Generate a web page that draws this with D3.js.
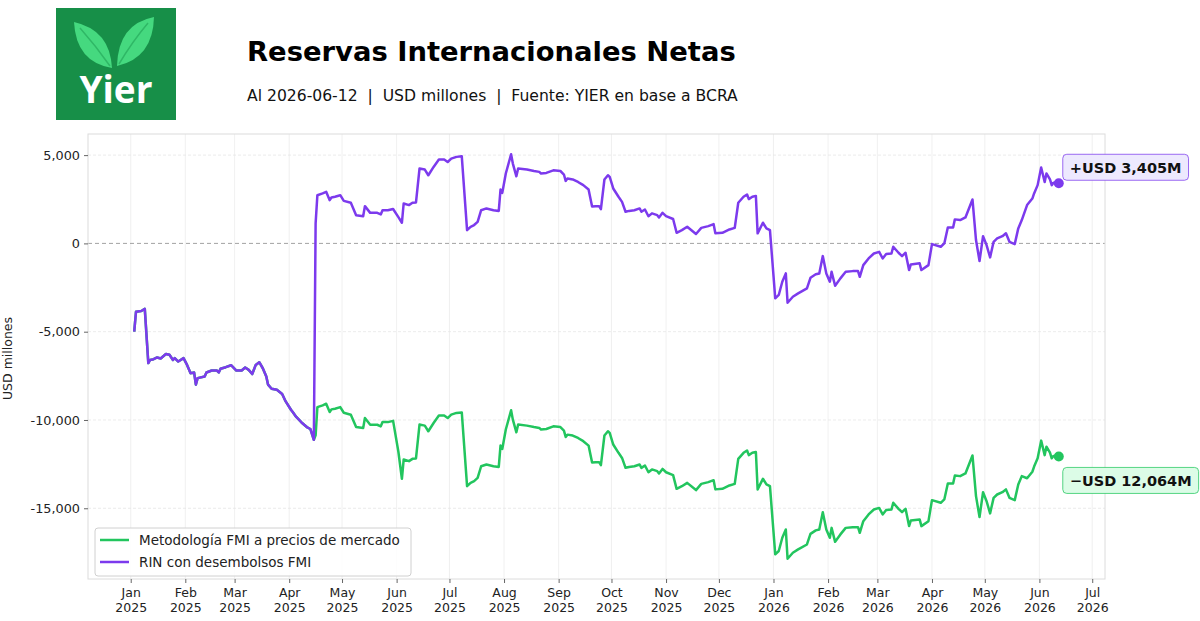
<!DOCTYPE html>
<html>
<head>
<meta charset="utf-8">
<script src="https://cdn.jsdelivr.net/npm/d3@7"></script>
<style>
  body { margin: 0; background: #fff; overflow: hidden; }
  svg { display: block; }
  text { font-family: "DejaVu Sans", sans-serif; }
</style>
</head>
<body>
<script>
const width = 1200,
  height = 621;

const margin = { top: 134, right: 95, bottom: 42, left: 88 };
const innerWidth = width - margin.left - margin.right;
const innerHeight = height - margin.top - margin.bottom;

// Data (USD millones)
const fechas = [
  "2025-01-03", "2025-01-04", "2025-01-07", "2025-01-09", "2025-01-11", "2025-01-12", "2025-01-14", "2025-01-16", "2025-01-18", "2025-01-21", "2025-01-23", "2025-01-25", "2025-01-26", "2025-01-28", "2025-01-31",
  "2025-02-02", "2025-02-04", "2025-02-06", "2025-02-07", "2025-02-08", "2025-02-12", "2025-02-13", "2025-02-16", "2025-02-19", "2025-02-20", "2025-02-21", "2025-02-24", "2025-02-27",
  "2025-03-02", "2025-03-05", "2025-03-07", "2025-03-09", "2025-03-11", "2025-03-13", "2025-03-15", "2025-03-17", "2025-03-19", "2025-03-20", "2025-03-22", "2025-03-25", "2025-03-28", "2025-03-30",
  "2025-04-02", "2025-04-03", "2025-04-05", "2025-04-08", "2025-04-11", "2025-04-13", "2025-04-15", "2025-04-16", "2025-04-17", "2025-04-20", "2025-04-22", "2025-04-24", "2025-04-25", "2025-04-27", "2025-04-30",
  "2025-05-02", "2025-05-06", "2025-05-09", "2025-05-13", "2025-05-14", "2025-05-17", "2025-05-21", "2025-05-23", "2025-05-24", "2025-05-27", "2025-05-30",
  "2025-06-02", "2025-06-04", "2025-06-05", "2025-06-08", "2025-06-10", "2025-06-12", "2025-06-14", "2025-06-17", "2025-06-19", "2025-06-22", "2025-06-25", "2025-06-28", "2025-06-30",
  "2025-07-02", "2025-07-05", "2025-07-08", "2025-07-11", "2025-07-13", "2025-07-15", "2025-07-17", "2025-07-19", "2025-07-22", "2025-07-26", "2025-07-29", "2025-07-30", "2025-07-31",
  "2025-08-02", "2025-08-05", "2025-08-06", "2025-08-08", "2025-08-09", "2025-08-14", "2025-08-18", "2025-08-21", "2025-08-22", "2025-08-25", "2025-08-29",
  "2025-09-02", "2025-09-04", "2025-09-05", "2025-09-06", "2025-09-09", "2025-09-12", "2025-09-15", "2025-09-18", "2025-09-20", "2025-09-22", "2025-09-24", "2025-09-25", "2025-09-27", "2025-09-29", "2025-09-30",
  "2025-10-02", "2025-10-05", "2025-10-07", "2025-10-09", "2025-10-11", "2025-10-14", "2025-10-17", "2025-10-18", "2025-10-20", "2025-10-22", "2025-10-24", "2025-10-27", "2025-10-28", "2025-10-30",
  "2025-11-01", "2025-11-05", "2025-11-07", "2025-11-10", "2025-11-13", "2025-11-18", "2025-11-21", "2025-11-25", "2025-11-28", "2025-11-29",
  "2025-12-03", "2025-12-07", "2025-12-10", "2025-12-12", "2025-12-15", "2025-12-17", "2025-12-18", "2025-12-20", "2025-12-22", "2025-12-23", "2025-12-26", "2025-12-28", "2025-12-30",
  "2026-01-02", "2026-01-04", "2026-01-06", "2026-01-08", "2026-01-09", "2026-01-12", "2026-01-15", "2026-01-20", "2026-01-22", "2026-01-25", "2026-01-27", "2026-01-29", "2026-01-31",
  "2026-02-02", "2026-02-03", "2026-02-05", "2026-02-08", "2026-02-11", "2026-02-15", "2026-02-18", "2026-02-19", "2026-02-21", "2026-02-24", "2026-02-27",
  "2026-03-02", "2026-03-04", "2026-03-06", "2026-03-09", "2026-03-10", "2026-03-13", "2026-03-15", "2026-03-17", "2026-03-19", "2026-03-20", "2026-03-25", "2026-03-26", "2026-03-30",
  "2026-04-01", "2026-04-06", "2026-04-08", "2026-04-10", "2026-04-13", "2026-04-14", "2026-04-17", "2026-04-20", "2026-04-24", "2026-04-26", "2026-04-28", "2026-04-30",
  "2026-05-02", "2026-05-04", "2026-05-06", "2026-05-08", "2026-05-11", "2026-05-13", "2026-05-15", "2026-05-18", "2026-05-20", "2026-05-22", "2026-05-25", "2026-05-28", "2026-05-29", "2026-05-31",
  "2026-06-02", "2026-06-04", "2026-06-05", "2026-06-07", "2026-06-08", "2026-06-09", "2026-06-12"
];

// RIN con desembolsos FMI
const rinDesembolsos = [
  -5000, -3870, -3830, -3710, -6780, -6600, -6560, -6460, -6520, -6260, -6310, -6600, -6500, -6690, -6500,
  -6880, -7350, -7310, -8000, -7630, -7540, -7310, -7200, -7200, -7310, -7100, -7010, -6900,
  -7200, -7200, -7030, -7160, -7400, -6880, -6730, -7070, -7540, -8000, -8230, -8290, -8530, -8950,
  -9420, -9550, -9830, -10140, -10400, -10510, -11120, 1130, 2730, 2830, 2920, 2450, 2600, 2640, 2730,
  2410, 2300, 1600, 1540, 2110, 1730, 1730, 1640, 1880, 1880, 1950,
  1490, 1170, 2260, 2170, 2300, 2320, 4240, 4180, 3860, 4330, 4750, 4750, 4610,
  4800, 4900, 4930, 750, 940, 1040, 1220, 1880, 1980, 1880, 1840, 3050, 2860,
  3960, 5050, 4520, 3800, 4240, 4180, 4100, 4050, 3960, 3990, 4140,
  4100, 3900, 3540, 3670, 3620, 3480, 3300, 3050, 2090, 2110, 2110, 1940, 3620, 3860, 3770,
  3110, 2640, 2350, 1790, 1840, 1880, 1980, 1790, 1920, 1540, 1700, 1600, 1470, 1730,
  1540, 1380, 600, 750, 940, 530, 880, 980, 1090, 570,
  600, 790, 880, 2300, 2640, 2770, 2510, 2640, 2690, 570, 1170, 850, 750,
  -3110, -2920, -2170, -1700, -3360, -3020, -2830, -2550, -1950, -1750, -1700, -720, -1700,
  -2170, -1610, -2400, -1980, -1610, -1570, -1570, -1890, -1230, -850, -570,
  -480, -850, -600, -570, -190, -530, -720, -530, -1510, -1190, -1130, -1510, -1230,
  -40, -190, 0, 900, 900, 1360, 1320, 1470, 2490, 190, -1000, 410,
  -100, -790, 90, 280, 410, 570, 90, -40, 850, 1320, 2170, 2540, 2830, 3300,
  4300, 3480, 3960, 3620, 3300, 3430, 3405
];

// Metodología FMI a precios de mercado
const metodologiaFmi = [
  -5000, -3870, -3830, -3710, -6780, -6600, -6560, -6460, -6520, -6260, -6310, -6600, -6500, -6690, -6500,
  -6880, -7350, -7310, -8000, -7630, -7540, -7310, -7200, -7200, -7310, -7100, -7010, -6900,
  -7200, -7200, -7030, -7160, -7400, -6880, -6730, -7070, -7540, -8000, -8230, -8290, -8530, -8950,
  -9420, -9550, -9830, -10140, -10400, -10510, -11120, -10870, -9270, -9170, -9080, -9550, -9400, -9360, -9270,
  -9590, -9700, -10400, -10460, -9890, -10270, -10270, -10360, -10120, -10120, -10050,
  -11800, -13330, -12240, -12330, -12200, -12180, -10260, -10320, -10640, -10170, -9750, -9750, -9890,
  -9700, -9600, -9570, -13750, -13560, -13460, -13280, -12620, -12520, -12620, -12660, -11450, -11640,
  -10540, -9450, -9980, -10700, -10260, -10320, -10400, -10450, -10540, -10510, -10360,
  -10400, -10600, -10960, -10830, -10880, -11020, -11200, -11450, -12410, -12390, -12390, -12560, -10880, -10640, -10730,
  -11390, -11860, -12150, -12710, -12660, -12620, -12520, -12710, -12580, -12960, -12800, -12900, -13030, -12770,
  -12960, -13120, -13900, -13750, -13560, -13970, -13620, -13520, -13410, -13930,
  -13900, -13710, -13620, -12200, -11860, -11730, -11990, -11860, -11810, -13930, -13330, -13650, -13750,
  -17610, -17420, -16670, -16200, -17860, -17520, -17330, -17050, -16450, -16250, -16200, -15220, -16200,
  -16670, -16110, -16900, -16480, -16110, -16070, -16070, -16390, -15730, -15350, -15070,
  -14980, -15350, -15100, -15070, -14690, -15030, -15220, -15030, -16010, -15690, -15630, -16010, -15730,
  -14540, -14690, -14500, -13600, -13600, -13140, -13180, -13030, -12010, -14310, -15500, -14090,
  -14600, -15290, -14410, -14220, -14090, -13930, -14410, -14540, -13650, -13180, -13300, -12930, -12640, -12170,
  -11170, -11990, -11510, -11850, -12170, -12040, -12064
];

const yTicks = [5000, 0, -5000, -10000, -15000];

const titulo = "Reservas Internacionales Netas";
const subtitulo = "Al 2026-06-12  |  USD millones  |  Fuente: YIER en base a BCRA";

const parseDate = d3.timeParse("%Y-%m-%d");
const fmtMonth = d3.timeFormat("%b");
const fmtYear = d3.timeFormat("%Y");
const numFormat = d3.formatLocale({
  decimal: ".",
  thousands: ",",
  grouping: [3],
  currency: ["$", ""],
  minus: "-"
}).format(",");

const series = [
  {
    name: "Metodología FMI a precios de mercado",
    color: "#22c55e",
    boxFill: "#dcfce7",
    values: metodologiaFmi
  },
  {
    name: "RIN con desembolsos FMI",
    color: "#7c3aed",
    boxFill: "#ede9fe",
    values: rinDesembolsos
  }
];

series.forEach(s => {
  s.data = fechas.map((f, i) => ({ date: parseDate(f), value: s.values[i] }));
});

// scales with matplotlib-like 5% margins
const dateExtent = d3.extent(fechas, parseDate);
const xPad = (dateExtent[1] - dateExtent[0]) * 0.05;
const xScale = d3
  .scaleTime()
  .domain([new Date(+dateExtent[0] - xPad), new Date(+dateExtent[1] + xPad)])
  .range([margin.left, margin.left + innerWidth]);

const allValues = rinDesembolsos.concat(metodologiaFmi);
const yMin = d3.min(allValues),
  yMax = d3.max(allValues);
const yPad = (yMax - yMin) * 0.05;
const yScale = d3
  .scaleLinear()
  .domain([yMin - yPad, yMax + yPad])
  .range([margin.top + innerHeight, margin.top]);

const svg = d3
  .select("body")
  .append("svg")
  .attr("width", width)
  .attr("height", height);

// logo
const logo = svg.append("g").attr("class", "logo");
logo
  .append("rect")
  .attr("x", 56)
  .attr("y", 8)
  .attr("width", 120)
  .attr("height", 112)
  .attr("fill", "#178f48");
logo
  .append("path")
  .attr("d", "M112,68 Q110,30 74,22 Q76,62 112,68 Z")
  .attr("fill", "#45d97f");
logo
  .append("path")
  .attr("d", "M117,66 Q118,24 154,17 Q153,58 117,66 Z")
  .attr("fill", "#45d97f");
logo
  .append("path")
  .attr("d", "M110,66 Q96,46 80,28")
  .attr("fill", "none")
  .attr("stroke", "#2fb866")
  .attr("stroke-width", 1.5);
logo
  .append("path")
  .attr("d", "M119,64 Q132,42 148,23")
  .attr("fill", "none")
  .attr("stroke", "#2fb866")
  .attr("stroke-width", 1.5);
logo
  .append("text")
  .attr("x", 116)
  .attr("y", 103)
  .attr("text-anchor", "middle")
  .attr("fill", "#fff")
  .style("font-family", "'Open Sans', sans-serif")
  .attr("font-weight", 700)
  .attr("font-size", 37)
  .text("Yier");

// titles
svg
  .append("text")
  .attr("x", 247)
  .attr("y", 61)
  .attr("font-weight", "bold")
  .attr("font-size", 27.4)
  .attr("fill", "#000")
  .text(titulo);

svg
  .append("text")
  .attr("x", 247)
  .attr("y", 101)
  .attr("font-size", 15.6)
  .attr("fill", "#111")
  .style("white-space", "pre")
  .text(subtitulo);

// plot panel: grid, zero line, frame
const monthTicks = xScale.ticks(d3.timeMonth.every(1));
const plotG = svg.append("g").attr("class", "plot");

plotG
  .append("g")
  .attr("class", "grid-x")
  .selectAll("line")
  .data(monthTicks)
  .enter()
  .append("line")
  .attr("x1", d => xScale(d))
  .attr("x2", d => xScale(d))
  .attr("y1", margin.top)
  .attr("y2", margin.top + innerHeight)
  .attr("stroke", "#ececec")
  .attr("stroke-width", 0.8);

plotG
  .append("g")
  .attr("class", "grid-y")
  .selectAll("line")
  .data(yTicks.filter(d => d !== 0))
  .enter()
  .append("line")
  .attr("x1", margin.left)
  .attr("x2", margin.left + innerWidth)
  .attr("y1", d => yScale(d))
  .attr("y2", d => yScale(d))
  .attr("stroke", "#e6e6e6")
  .attr("stroke-width", 0.8)
  .attr("stroke-dasharray", "3,2");

plotG
  .append("line")
  .attr("x1", margin.left)
  .attr("x2", margin.left + innerWidth)
  .attr("y1", yScale(0))
  .attr("y2", yScale(0))
  .attr("stroke", "#8a8a8a")
  .attr("stroke-width", 0.8)
  .attr("stroke-dasharray", "4,3");

plotG
  .append("rect")
  .attr("x", margin.left)
  .attr("y", margin.top)
  .attr("width", innerWidth)
  .attr("height", innerHeight)
  .attr("fill", "none")
  .attr("stroke", "#dcdcdc")
  .attr("stroke-width", 1);

// axes
const xAxis = d3
  .axisBottom(xScale)
  .tickValues(monthTicks)
  .tickSize(4)
  .tickPadding(5)
  .tickFormat(fmtMonth);

const gx = svg
  .append("g")
  .attr("id", "x-axis")
  .attr("transform", `translate(0,${margin.top + innerHeight})`)
  .call(xAxis)
  .attr("font-size", 12.5)
  .attr("font-family", "DejaVu Sans, sans-serif");

gx.select(".domain").remove();
gx.selectAll(".tick line").attr("stroke", "#666");
gx.selectAll(".tick text")
  .attr("fill", "#222")
  .each(function(d) {
    const t = d3.select(this).text(null).attr("dy", null);
    t.append("tspan").attr("x", 0).attr("dy", "0.71em").text(fmtMonth(d));
    t.append("tspan").attr("x", 0).attr("dy", "1.18em").text(fmtYear(d));
  });

const yAxis = d3
  .axisLeft(yScale)
  .tickValues(yTicks)
  .tickSize(4)
  .tickPadding(4)
  .tickFormat(numFormat);

const gy = svg
  .append("g")
  .attr("id", "y-axis")
  .attr("transform", `translate(${margin.left},0)`)
  .call(yAxis)
  .attr("font-size", 12.8)
  .attr("font-family", "DejaVu Sans, sans-serif");

gy.select(".domain").remove();
gy.selectAll(".tick line").attr("stroke", "#666");
gy.selectAll(".tick text").attr("fill", "#222");

svg
  .append("text")
  .attr("class", "yAxis-label")
  .attr("x", -(margin.top + innerHeight / 2) - 2)
  .attr("y", 12)
  .attr("transform", "rotate(-90)")
  .attr("text-anchor", "middle")
  .attr("font-size", 12.5)
  .attr("fill", "#222")
  .text("USD millones");

// lines
const line = d3
  .line()
  .x(d => xScale(d.date))
  .y(d => yScale(d.value));

svg
  .append("g")
  .attr("class", "series")
  .selectAll(".serie")
  .data(series)
  .enter()
  .append("path")
  .attr("class", "serie")
  .attr("d", d => line(d.data))
  .attr("fill", "none")
  .attr("stroke", d => d.color)
  .attr("stroke-width", 2.5)
  .attr("stroke-linejoin", "round");

// end markers and labels
series.forEach(s => {
  const last = s.data[s.data.length - 1];
  const cx = xScale(last.date),
    cy = yScale(last.value);

  svg
    .append("circle")
    .attr("cx", cx)
    .attr("cy", cy)
    .attr("r", 5)
    .attr("fill", s.color);

  const label =
    (last.value >= 0 ? "+" : "\u2212") + "USD " + d3.format(",")(Math.abs(last.value)) + "M";
  const boxY = last.value >= 0 ? cy - 16 : cy + 24; // above / below the dot
  const lg = svg.append("g").attr("transform", `translate(${cx + 4},${boxY})`);

  const txt = lg
    .append("text")
    .attr("x", 7)
    .attr("y", 0)
    .attr("dy", "0.36em")
    .attr("font-weight", "bold")
    .attr("font-size", 14.5)
    .attr("fill", "#111")
    .text(label);

  const w = txt.node().getComputedTextLength() + 14;
  lg.insert("rect", "text")
    .attr("x", 0)
    .attr("y", -13)
    .attr("width", w)
    .attr("height", 26)
    .attr("rx", 4)
    .attr("fill", s.boxFill)
    .attr("stroke", s.color)
    .attr("stroke-opacity", 0.75)
    .attr("stroke-width", 1);
});

// legend
const legend = svg
  .append("g")
  .attr("class", "legend")
  .attr("transform", `translate(${margin.left + 7}, ${margin.top + innerHeight - 51})`);

legend
  .append("rect")
  .attr("width", 316)
  .attr("height", 48)
  .attr("rx", 3)
  .attr("fill", "#fff")
  .attr("fill-opacity", 0.85)
  .attr("stroke", "#d0d0d0");

const items = legend
  .selectAll(".item")
  .data(series)
  .enter()
  .append("g")
  .attr("class", "item")
  .attr("transform", (d, i) => `translate(0, ${12 + i * 22})`);

items
  .append("line")
  .attr("x1", 5)
  .attr("x2", 34)
  .attr("stroke", d => d.color)
  .attr("stroke-width", 2.5);

items
  .append("text")
  .attr("x", 44)
  .attr("dy", "0.36em")
  .attr("font-size", 13.5)
  .attr("fill", "#222")
  .text(d => d.name);
</script>
</body>
</html>
